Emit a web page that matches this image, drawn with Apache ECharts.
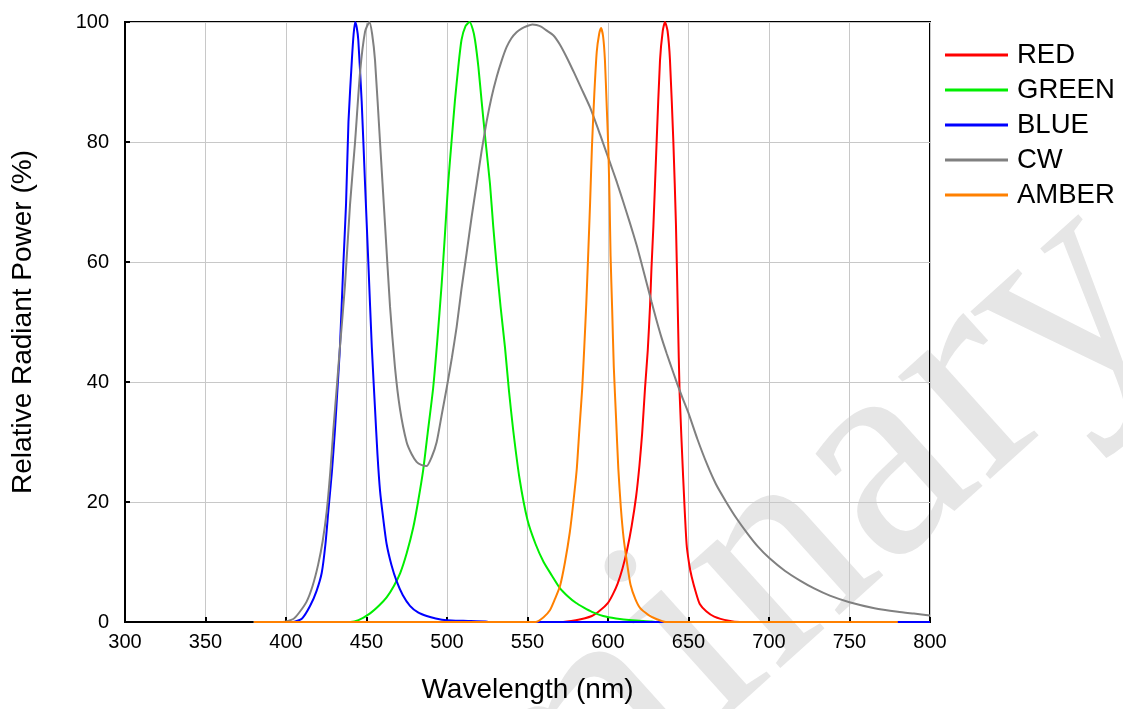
<!DOCTYPE html>
<html>
<head>
<meta charset="utf-8">
<script src="https://cdn.jsdelivr.net/npm/echarts@6/dist/echarts.min.js"></script>
<style>html,body{margin:0;padding:0;background:#fff}#c{width:1123px;height:709px}</style>
</head>
<body>
<div id="c"></div>
<script>
// ---- data (wavelength nm, relative power %) ----
const seriesNames = ['RED', 'GREEN', 'BLUE', 'CW', 'AMBER'];
const xTicks = [300, 350, 400, 450, 500, 550, 600, 650, 700, 750, 800];
const yTicks = [0, 20, 40, 60, 80, 100];

const RED = [[380,0],[570,0],[580,0.3],[590,1],[595,1.9],[600,3.2],[603,4.6],[606,6.4],[609,8.9],[612,12.2],[614.7,16],[617.5,21],[619.5,26],[621.2,31.4],[623,39],[624.7,45.3],[626.1,52.6],[627,59],[628.2,66],[630.2,80],[632.3,93.6],[634,98.5],[635.4,100],[637,98.5],[638.5,93.6],[640.6,80],[642.2,66.3],[643.5,50],[644.5,38],[646.7,24],[648.8,13],[650.5,9.5],[652,7.5],[654.5,5],[657,3],[661,1.8],[666,0.9],[675,0.2],[682,0],[780,0]];

const GREEN = [[380,0],[440,0],[445,0.3],[452,1.4],[458,2.8],[462.5,4.1],[467,6],[471,8.2],[475,11.5],[479,15.7],[482,20],[485.2,25.3],[488,31.5],[491.4,39],[494,47],[496.6,56],[498.7,64.5],[500.7,73],[502.8,80],[504.9,86.8],[507,92.5],[509,97],[511.5,99.3],[514,100],[516,98.8],[517.4,97],[519.5,92.5],[521.5,86.8],[524,80],[526.7,73],[528.7,66],[530.8,59.5],[533.3,52.5],[536,45.8],[538.5,38.5],[541.1,32],[545,24],[550,17],[555,13],[560,10],[565,7.8],[570,5.7],[575,4.3],[580,3.2],[585,2.4],[590,1.7],[597,1],[605,0.6],[615,0.3],[627,0.1],[630,0],[780,0]];

const BLUE = [[380,0],[404,0],[410,0.6],[415,2.7],[419,5.2],[422.2,8.2],[424.5,13],[426.3,18.5],[428.5,25],[430.4,32],[432,39],[433.5,45.8],[435.6,59.5],[437.3,69.7],[438.8,83.4],[440.9,93.6],[442,98],[443,100],[444,99],[444.9,97],[447,86.8],[449.1,73],[451.2,59.5],[453.3,45.8],[455.3,35.5],[456.8,28],[458.4,21.9],[460.5,17],[462.5,13],[465.5,9.5],[468.7,6.8],[472.5,4.5],[477,2.7],[482,1.6],[487.4,1],[493,0.6],[500,0.3],[510,0.2],[524,0.1],[526,0],[800,0]];

const CW = [[380,0],[398,0],[404.5,0.5],[408,1.5],[412.8,3.4],[416.5,6],[420,9.6],[422.8,13.5],[425.3,18.5],[427.5,25],[429.4,32],[431.5,39],[433.5,45.8],[436.6,56],[439.8,69.7],[442.9,80],[446,91.6],[449.1,98.4],[451.8,100],[453.5,98],[455.3,93.6],[458.4,80],[461.5,66.3],[464.6,52.6],[467.7,42.4],[470.8,35.5],[474.9,30],[478,28],[481.1,26.7],[484,26.2],[487.4,26],[490.5,27.5],[493.6,30],[496.7,34.5],[499.8,39],[503,44],[506,49.2],[509,55.5],[512.2,61.5],[515.3,67.5],[518.4,73],[521.5,78.5],[524.6,83.4],[527.7,87.5],[530.8,90.8],[534,93.6],[537,95.8],[540,97.3],[543.2,98.3],[546.3,98.9],[549.4,99.3],[553,99.6],[555.6,99.5],[558.7,99.2],[561.8,98.6],[566,97.8],[570,96.3],[574,94.3],[578.5,91.8],[583.5,88.9],[588.8,85.8],[595,81.3],[601.2,76.6],[605.5,73.3],[609.5,70],[613.5,66.6],[617.8,62.8],[621,59.6],[624,56.5],[627,53.4],[630,50.4],[633,47.6],[636.4,44.8],[640,42],[643,39.7],[646.5,37.2],[650,34.8],[655.5,30.5],[661.5,26.3],[667,23],[673.2,20.1],[680,17.2],[687,14.6],[693,12.6],[700,10.7],[710,8.5],[719.3,6.9],[728,5.6],[737.8,4.4],[750,3.3],[765.5,2.3],[780,1.7],[790,1.4],[800,1.1]];

const AMBER = [[380,0],[555,0],[560,0.8],[564,2],[567,3.8],[570.2,6],[573.3,10],[576.3,15],[578.5,20],[580.6,25.5],[582.2,32],[584,39],[585.3,46],[586.5,53],[587.8,62],[588.9,70],[590,79],[591.5,88],[593,95],[594.5,98],[595.7,99],[597,97.5],[598.1,93.6],[599.2,86],[600.2,79],[601,70],[601.6,61],[602.6,52],[603.6,42.5],[605,34],[606.4,25.6],[608,19],[609.7,14],[612,9.5],[614,6.2],[617,3.8],[620,2.3],[625,1.2],[630,0.5],[636,0],[780,0]];

const seriesData = [RED, GREEN, BLUE, CW, AMBER];
const seriesColors = ['#ff0000', '#00ee00', '#0000ff', '#808080', '#ff8000'];

const chart = echarts.init(document.getElementById('c'), null, {renderer: 'canvas'});
const FONT = '"Liberation Sans", Arial, sans-serif';

chart.setOption({
  animation: false,
  backgroundColor: '#ffffff',
  grid: {left: 125, right: 193, top: 22, bottom: 87, show: true, borderColor: '#000', borderWidth: 2, backgroundColor: 'transparent'},
  graphic: [{
    type: 'text', z: -10, x: 66, y: 1205, rotation: 0.733,
    style: {text: 'Preliminary', font: '300px "Liberation Serif", serif', fill: '#e6e6e6', verticalAlign: 'middle', align: 'left'}
  }],
  legend: {
    orient: 'vertical', left: 945, top: 40, padding: 0, itemWidth: 63, itemHeight: 3, itemGap: 5, icon: 'rect',
    data: seriesNames,
    textStyle: {fontFamily: FONT, fontSize: 27.5, color: '#000', lineHeight: 30, padding: [0, 0, 0, 4]}
  },
  xAxis: {
    type: 'value', min: xTicks[0], max: xTicks[xTicks.length - 1], interval: 50,
    name: 'Wavelength (nm)', nameLocation: 'middle', nameGap: 54,
    nameTextStyle: {fontFamily: FONT, fontSize: 28, color: '#000'},
    axisLine: {show: true, lineStyle: {color: '#000', width: 2}},
    axisTick: {show: true, inside: true, length: 5, lineStyle: {color: '#000', width: 2}},
    axisLabel: {fontFamily: FONT, fontSize: 20, color: '#000', margin: 10},
    splitLine: {show: true, lineStyle: {color: '#c8c8c8', width: 1}}
  },
  yAxis: {
    type: 'value', min: yTicks[0], max: yTicks[yTicks.length - 1], interval: 20,
    name: 'Relative Radiant Power (%)', nameLocation: 'middle', nameGap: 88,
    nameTextStyle: {fontFamily: FONT, fontSize: 28, color: '#000'},
    axisLine: {show: true, lineStyle: {color: '#000', width: 2}},
    axisTick: {show: true, inside: true, length: 5, lineStyle: {color: '#000', width: 2}},
    axisLabel: {fontFamily: FONT, fontSize: 20, color: '#000', margin: 16},
    splitLine: {show: true, lineStyle: {color: '#c8c8c8', width: 1}}
  },
  series: seriesNames.map((n, i) => ({
    name: n, type: 'line', data: seriesData[i], showSymbol: false, symbol: 'none', smooth: 0.2,
    color: seriesColors[i], lineStyle: {width: 2, color: seriesColors[i]}, z: 2 + i
  }))
});
</script>
</body>
</html>
